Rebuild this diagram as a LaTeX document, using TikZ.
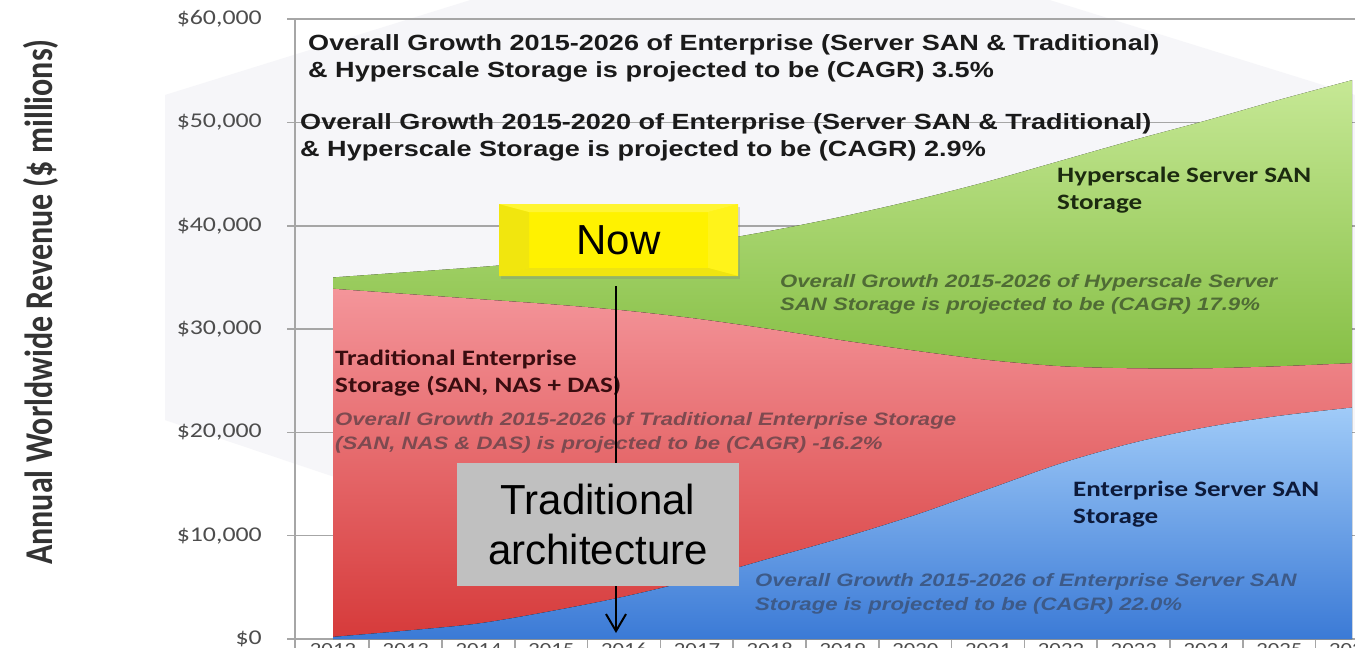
\documentclass[tikz,border=0pt]{standalone}
\usepackage{fontspec}
\usetikzlibrary{arrows.meta,shadows}

\newfontfamily\chartsans[FakeStretch=1.23]{Liberation Sans}
\newfontfamily\chartcal[FakeStretch=1.23]{Carlito}
\newfontfamily\plainsans{Liberation Sans}
\newfontfamily\plaincal{Carlito}

\definecolor{gridgray}{HTML}{A6A6A6}
\definecolor{labgray}{HTML}{4D4D4D}
\definecolor{titlegray}{HTML}{333333}
\definecolor{wmgray}{HTML}{F6F6F9}
\definecolor{headblack}{HTML}{1A1A1A}
\definecolor{hyperdark}{HTML}{1C2A10}
\definecolor{hypergrowth}{HTML}{4F6B35}
\definecolor{traddark}{HTML}{3A0D10}
\definecolor{tradgrowth}{HTML}{7D4A50}
\definecolor{entdark}{HTML}{0D1A3A}
\definecolor{entgrowth}{HTML}{3D5A88}
\definecolor{greentop}{HTML}{C6E895}
\definecolor{greenbot}{HTML}{86BF45}
\definecolor{redtop}{HTML}{F4959A}
\definecolor{redbot}{HTML}{D63A3A}
\definecolor{bluetop}{HTML}{A0CBF8}
\definecolor{bluebot}{HTML}{3B7AD6}
\definecolor{archgray}{HTML}{C0C0C0}

\tikzset{
  gridline/.style={draw=gridgray, line width=1.5pt},
  ylab/.style={anchor=east, inner sep=0pt, text=labgray, font=\chartcal\fontsize{21}{24}\selectfont},
  yearlab/.style={anchor=north, inner sep=0pt, text=labgray, font=\chartcal\fontsize{18.5}{22}\selectfont},
  ytitle/.style={xscale=1.23, rotate=90, text=titlegray, font=\plaincal\bfseries\fontsize{32}{36}\selectfont},
  headline/.style={anchor=west, inner sep=0pt, align=left, text=headblack, font=\chartsans\bfseries\fontsize{22}{27}\selectfont},
  serieslab/.style={anchor=west, inner sep=0pt, align=left, font=\chartcal\bfseries\fontsize{22}{27}\selectfont},
  growthlab/.style={anchor=west, inner sep=0pt, align=left, font=\chartsans\bfseries\itshape\fontsize{18}{23.5}\selectfont},
  nowbox/.style={fill=yellow, minimum width=239pt, minimum height=72pt, inner sep=0pt,
    font=\plainsans\fontsize{42}{50}\selectfont,
    drop shadow={shadow xshift=2pt, shadow yshift=-3pt, opacity=0.3, fill=black!50},
    path picture={
      \fill[yellow!94!black] (path picture bounding box.north west) -- ++(30pt,-8pt)
        -- ([shift={(30pt,8pt)}]path picture bounding box.south west) -- (path picture bounding box.south west) -- cycle;
      \fill[yellow!90!white] (path picture bounding box.north east) -- ++(-30pt,-8pt)
        -- ([shift={(-30pt,8pt)}]path picture bounding box.south east) -- (path picture bounding box.south east) -- cycle;
      \fill[yellow!80!white] (path picture bounding box.north west) -- (path picture bounding box.north east)
        -- ++(-30pt,-8pt) -- ([shift={(30pt,-8pt)}]path picture bounding box.north west) -- cycle;
      \fill[yellow!93!black] (path picture bounding box.south west) -- (path picture bounding box.south east)
        -- ++(-30pt,8pt) -- ([shift={(30pt,8pt)}]path picture bounding box.south west) -- cycle;
    }},
  archbox/.style={fill=archgray, minimum width=282pt, minimum height=123pt, inner sep=0pt, align=center,
    font=\plainsans\fontsize{42}{50}\selectfont},
  nowarrow/.style={line width=2pt, -{Straight Barb[length=17pt,width=20pt,line width=2pt]}}
}

\begin{document}
\begin{tikzpicture}[x=1pt,y=-1pt]
\useasboundingbox[fill=white] (0,0) rectangle (1355,648);

% faint watermark behind the chart
\fill[wmgray] (165,95) -- (760,-90) -- (1355,95) -- (1355,430) -- (760,620) -- (165,420) -- cycle;

\foreach \v in {0,10,...,60}
  \draw[gridline] (287,{639-10.33*\v}) -- (1355,{639-10.33*\v});
\draw[gridline] (295,19.2) -- (295,648);
\foreach \k in {1,...,14}
  \draw[gridline] ({296.4+72.8*\k},639) -- ++(0,12);

\foreach \v/\t in {0/\$0,10/{\$10,000},20/{\$20,000},30/{\$30,000},40/{\$40,000},50/{\$50,000},60/{\$60,000}}
  \node[ylab] (y\v) at (262,{639-10.33*\v}) {\t};
\foreach \yr [count=\i from 0] in {2012,...,2026}
  \node[yearlab] (yr\yr) at ({333+72.8*\i},643) {\yr};

\node[ytitle] (ytitle) at (41,302) {Annual Worldwide Revenue (\$ millions)};

% stacked areas, values in $ thousands
\begin{scope}[shift={(333,639)}, x=72.8pt, y=10.33pt]
  \fill[top color=greentop, bottom color=greenbot]
    plot[smooth] coordinates {(0,35.0) (1,35.5) (2,36.0) (3,36.6) (4,37.4) (5,38.3) (6,39.5) (7,40.9) (8,42.5) (9,44.3) (10,46.3) (11,48.3) (12,50.2) (13,52.2) (14,54.1)}
    -- plot[smooth] coordinates {(14,26.7) (13,26.4) (12,26.2) (11,26.2) (10,26.4) (9,27.0) (8,27.9) (7,28.9) (6,30.0) (5,31.0) (4,31.8) (3,32.4) (2,32.9) (1,33.4) (0,33.9)}
    -- cycle;
  \fill[top color=redtop, bottom color=redbot]
    plot[smooth] coordinates {(0,33.9) (1,33.4) (2,32.9) (3,32.4) (4,31.8) (5,31.0) (6,30.0) (7,28.9) (8,27.9) (9,27.0) (10,26.4) (11,26.2) (12,26.2) (13,26.4) (14,26.7)}
    -- plot[smooth] coordinates {(14,22.4) (13,21.6) (12,20.5) (11,19.0) (10,17.0) (9,14.5) (8,12.0) (7,9.8) (6,7.8) (5,5.8) (4,4.1) (3,2.7) (2,1.5) (1,0.8) (0,0.2)}
    -- (0,0) -- cycle;
  \fill[top color=bluetop, bottom color=bluebot]
    plot[smooth] coordinates {(0,0.2) (1,0.8) (2,1.5) (3,2.7) (4,4.1) (5,5.8) (6,7.8) (7,9.8) (8,12.0) (9,14.5) (10,17.0) (11,19.0) (12,20.5) (13,21.6) (14,22.4)}
    -- (14,0) -- (0,0) -- cycle;
\end{scope}

\node[headline] (growthall) at (308,58.5) {Overall Growth 2015-2026 of Enterprise (Server SAN \& Traditional)\\\& Hyperscale Storage is projected to be (CAGR) 3.5\%};
\node[headline] (growthfive) at (300,137.5) {Overall Growth 2015-2020 of Enterprise (Server SAN \& Traditional)\\\& Hyperscale Storage is projected to be (CAGR) 2.9\%};

\node[serieslab, text=hyperdark] (hyperlab) at (1057,190.5) {Hyperscale Server SAN\\Storage};
\node[growthlab, text=hypergrowth] (hypergrowth) at (780,294.5) {Overall Growth 2015-2026 of Hyperscale Server\\SAN Storage is projected to be (CAGR) 17.9\%};
\node[serieslab, text=traddark] (tradlab) at (335,373) {Traditional Enterprise\\Storage (SAN, NAS + DAS)};
\node[growthlab, text=tradgrowth] (tradgrowth) at (335,433) {Overall Growth 2015-2026 of Traditional Enterprise Storage\\(SAN, NAS \& DAS) is projected to be (CAGR) -16.2\%};
\node[serieslab, text=entdark] (entlab) at (1073,504.5) {Enterprise Server SAN\\Storage};
\node[growthlab, text=entgrowth] (entgrowth) at (755,594) {Overall Growth 2015-2026 of Enterprise Server SAN\\Storage is projected to be (CAGR) 22.0\%};

\node[nowbox] (now) at (618.5,240) {Now};
\coordinate (tip) at (616,633);
\draw[nowarrow] ([shift={(-2.5,10)}]now.south) -- (tip);
\node[archbox] (arch) at (598,524.5) {Traditional\\architecture};

\end{tikzpicture}
\end{document}
